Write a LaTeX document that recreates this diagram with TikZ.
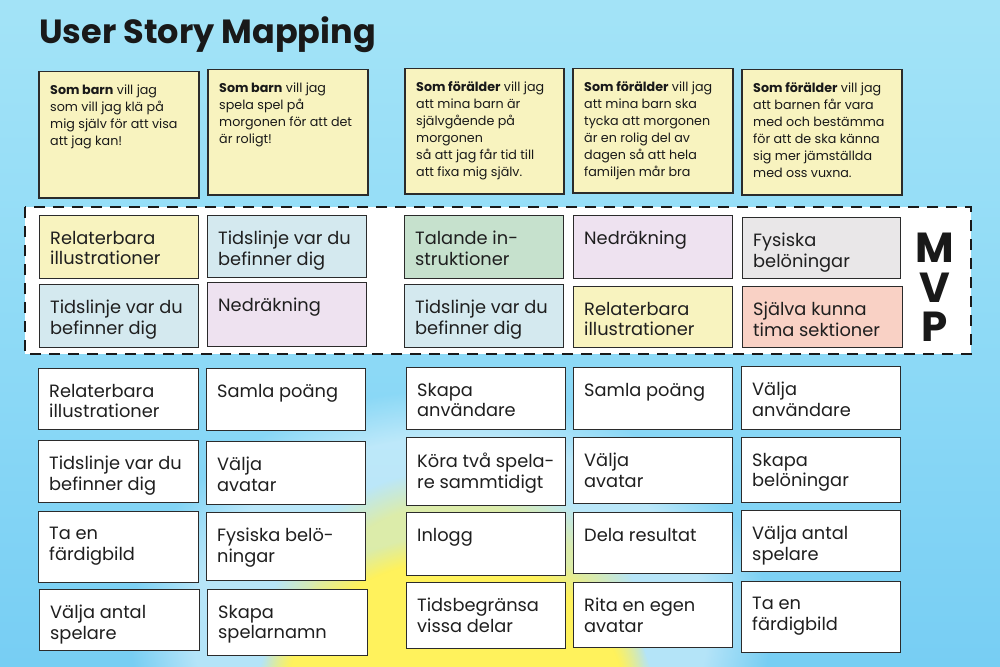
\documentclass[tikz,border=0pt]{standalone}
\usepackage{fontspec}
\setmainfont{Poppins}
\usepackage{xcolor}
\usetikzlibrary{positioning,fadings}

\definecolor{skyhigh}{HTML}{5FC1F0}
\definecolor{skymid}{HTML}{8AD8F6}
\definecolor{skylow}{HTML}{B8EDF8}
\definecolor{sunyellow}{HTML}{FFF25C}
\definecolor{notecol}{HTML}{F8F3BF}
\definecolor{bluecard}{HTML}{D4E9EF}
\definecolor{greencard}{HTML}{C6E1CD}
\definecolor{purplecard}{HTML}{EEE2F0}
\definecolor{greycard}{HTML}{E9E7E8}
\definecolor{salmoncard}{HTML}{F9D1C5}
\definecolor{cardline}{HTML}{2B2B2B}

\pgfdeclareverticalshading{skyfade}{100bp}{color(0bp)=(skyhigh); color(45bp)=(skymid); color(100bp)=(skylow)}

\tikzset{
  card/.style={draw=cardline, line width=1.3pt, anchor=north west, inner sep=0pt, fill=white},
  note/.style={card, fill=notecol, line width=1.5pt},
  cardtext/.style={below right=16pt and 11pt of #1, inner sep=0pt, align=left,
    font=\fontsize{17.8}{20.5}\selectfont, text=black!88},
  notetext/.style={below right=13.5pt and 12pt of #1, inner sep=0pt, align=left,
    font=\fontsize{12.7}{17}\selectfont, text=black!90},
  mvpletter/.style={anchor=base, inner sep=0pt,
    font=\fontsize{42}{42}\selectfont\bfseries, text=black!90}
}

\begin{document}
\begin{tikzpicture}[x=1pt,y=-1pt]
        \useasboundingbox (0,0) rectangle (1000,666);
        % background sky and sun
        \fill[shading=skyfade] (0,0) rectangle (1000,666);
        \fill[white, opacity=.45, path fading=circle with fuzzy edge 20 percent] (450,630) ellipse (320 and 240);
        \fill[sunyellow, opacity=.5, path fading=circle with fuzzy edge 20 percent] (455,640) ellipse (190 and 170);
        \fill[sunyellow, path fading=circle with fuzzy edge 15 percent] (455,705) ellipse (200 and 170);

        \node[anchor=base west, inner sep=0pt, font=\fontsize{33.5}{36}\selectfont\bfseries, text=black!90] (title) at (39,44) {User Story Mapping};

        % user stories
        \node[note, minimum width=160pt, minimum height=126pt] (n1) at (38,71) {};
        \node[note, minimum width=160pt, minimum height=125pt] (n2) at (207,69) {};
        \node[note, minimum width=159pt, minimum height=125pt] (n3) at (404,68) {};
        \node[note, minimum width=160pt, minimum height=124pt] (n4) at (572,68) {};
        \node[note, minimum width=160pt, minimum height=125pt] (n5) at (741,69) {};
        \node[notetext=n1.north west] (n1t) {\textbf{Som barn} vill jag\\som vill jag klä på\\mig själv för att visa\\att jag kan!};
        \node[notetext=n2.north west] (n2t) {\textbf{Som barn} vill jag\\spela spel på\\morgonen för att det\\är roligt!};
        \node[notetext=n3.north west] (n3t) {\textbf{Som förälder} vill jag\\att mina barn är\\självgående på\\morgonen\\så att jag får tid till\\att fixa mig själv.};
        \node[notetext=n4.north west] (n4t) {\textbf{Som förälder} vill jag\\att mina barn ska\\tycka att morgonen\\är en rolig del av\\dagen så att hela\\familjen mår bra};
        \node[notetext=n5.north west] (n5t) {\textbf{Som förälder} vill jag\\att barnen får vara\\med och bestämma\\för att de ska känna\\sig mer jämställda\\med oss vuxna.};

        % MVP area
        \draw[fill=white, draw=black!90, line width=2.6pt, dash pattern=on 11pt off 8pt] (25,207) rectangle (971,354);
        \node[card, fill=notecol, minimum width=159pt, minimum height=63pt] (m1) at (39,215) {};
        \node[card, fill=bluecard, minimum width=159pt, minimum height=62pt] (m2) at (207,215) {};
        \node[card, fill=greencard, minimum width=159pt, minimum height=63pt] (m3) at (404,215) {};
        \node[card, fill=purplecard, minimum width=159pt, minimum height=63pt] (m4) at (573,215) {};
        \node[card, fill=greycard, minimum width=158pt, minimum height=61pt] (m5) at (742,217) {};
        \node[card, fill=bluecard, minimum width=159pt, minimum height=63pt] (m6) at (39,284) {};
        \node[card, fill=purplecard, minimum width=159pt, minimum height=64pt] (m7) at (207,282) {};
        \node[card, fill=bluecard, minimum width=159pt, minimum height=63pt] (m8) at (404,284) {};
        \node[card, fill=notecol, minimum width=159pt, minimum height=61pt] (m9) at (573,286) {};
        \node[card, fill=salmoncard, minimum width=160pt, minimum height=61pt] (m10) at (742,286) {};
        \node[cardtext=m1.north west] (m1t) {Relaterbara\\illustrationer};
        \node[cardtext=m2.north west] (m2t) {Tidslinje var du\\befinner dig};
        \node[cardtext=m3.north west] (m3t) {Talande in-\\struktioner};
        \node[cardtext=m4.north west] (m4t) {Nedräkning};
        \node[cardtext=m5.north west] (m5t) {Fysiska\\belöningar};
        \node[cardtext=m6.north west] (m6t) {Tidslinje var du\\befinner dig};
        \node[cardtext=m7.north west] (m7t) {Nedräkning};
        \node[cardtext=m8.north west] (m8t) {Tidslinje var du\\befinner dig};
        \node[cardtext=m9.north west] (m9t) {Relaterbara\\illustrationer};
        \node[cardtext=m10.north west] (m10t) {Själva kunna\\tima sektioner};
        \node[mvpletter] (mvpM) at (935,262) {M};
        \node[mvpletter] (mvpV) at (935,302) {V};
        \node[mvpletter] (mvpP) at (935,341) {P};

        % backlog
        \node[card, minimum width=160pt, minimum height=61pt] (b1) at (38,368) {};
        \node[card, minimum width=160pt, minimum height=62pt] (b2) at (38,440) {};
        \node[card, minimum width=160pt, minimum height=71pt] (b3) at (38,511) {};
        \node[card, minimum width=160pt, minimum height=61pt] (b4) at (39,589) {};
        \node[card, minimum width=159pt, minimum height=62pt] (b5) at (206,368) {};
        \node[card, minimum width=159pt, minimum height=63pt] (b6) at (206,441) {};
        \node[card, minimum width=159pt, minimum height=68pt] (b7) at (206,512) {};
        \node[card, minimum width=160pt, minimum height=66pt] (b8) at (207,589) {};
        \node[card, minimum width=159pt, minimum height=62pt] (b9) at (406,367) {};
        \node[card, minimum width=159pt, minimum height=68pt] (b10) at (406,437) {};
        \node[card, minimum width=159pt, minimum height=63pt] (b11) at (406,512) {};
        \node[card, minimum width=159pt, minimum height=66pt] (b12) at (406,582) {};
        \node[card, minimum width=159pt, minimum height=62pt] (b13) at (573,367) {};
        \node[card, minimum width=159pt, minimum height=66pt] (b14) at (573,437) {};
        \node[card, minimum width=159pt, minimum height=61pt] (b15) at (573,512) {};
        \node[card, minimum width=159pt, minimum height=65pt] (b16) at (573,582) {};
        \node[card, minimum width=159pt, minimum height=63pt] (b17) at (741,366) {};
        \node[card, minimum width=159pt, minimum height=65pt] (b18) at (741,437) {};
        \node[card, minimum width=159pt, minimum height=61pt] (b19) at (741,510) {};
        \node[card, minimum width=159pt, minimum height=71pt] (b20) at (741,581) {};
        \node[cardtext=b1.north west] (b1t) {Relaterbara\\illustrationer};
        \node[cardtext=b2.north west] (b2t) {Tidslinje var du\\befinner dig};
        \node[cardtext=b3.north west] (b3t) {Ta en\\färdigbild};
        \node[cardtext=b4.north west] (b4t) {Välja antal\\spelare};
        \node[cardtext=b5.north west] (b5t) {Samla poäng};
        \node[cardtext=b6.north west] (b6t) {Välja\\avatar};
        \node[cardtext=b7.north west] (b7t) {Fysiska belö-\\ningar};
        \node[cardtext=b8.north west] (b8t) {Skapa\\spelarnamn};
        \node[cardtext=b9.north west] (b9t) {Skapa\\användare};
        \node[cardtext=b10.north west] (b10t) {Köra två spela-\\re sammtidigt};
        \node[cardtext=b11.north west] (b11t) {Inlogg};
        \node[cardtext=b12.north west] (b12t) {Tidsbegränsa\\vissa delar};
        \node[cardtext=b13.north west] (b13t) {Samla poäng};
        \node[cardtext=b14.north west] (b14t) {Välja\\avatar};
        \node[cardtext=b15.north west] (b15t) {Dela resultat};
        \node[cardtext=b16.north west] (b16t) {Rita en egen\\avatar};
        \node[cardtext=b17.north west] (b17t) {Välja\\användare};
        \node[cardtext=b18.north west] (b18t) {Skapa\\belöningar};
        \node[cardtext=b19.north west] (b19t) {Välja antal\\spelare};
        \node[cardtext=b20.north west] (b20t) {Ta en\\färdigbild};
    \end{tikzpicture}
\end{document}
